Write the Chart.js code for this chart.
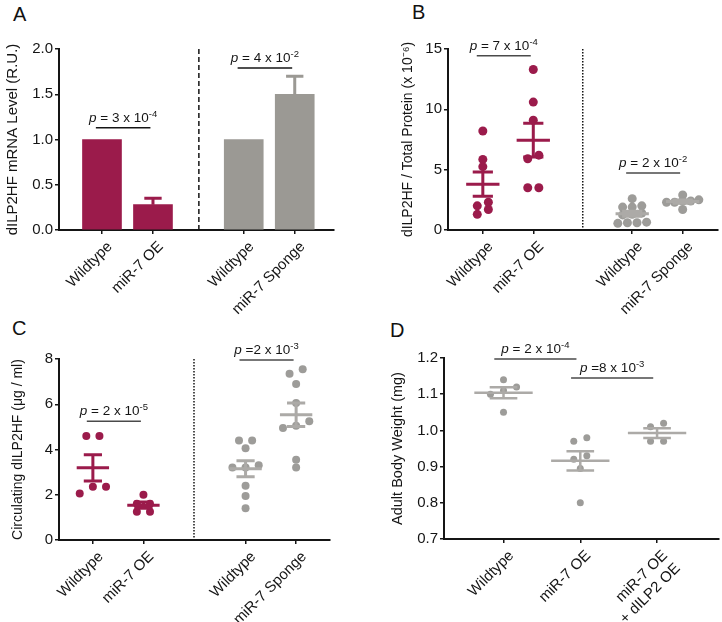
<!DOCTYPE html>
<html>
<head>
<meta charset="utf-8">
<script src="https://cdn.jsdelivr.net/npm/chart.js@4.4.1/dist/chart.umd.min.js"></script>
<style>
  body { margin: 0; background: #fff; width: 722px; height: 622px; position: relative; overflow: hidden;
         font-family: "Liberation Sans", Arial, sans-serif; }
  canvas { position: absolute; }
  .tag { position: absolute; font-size: 20px; line-height: 20px; color: #111; }
</style>
</head>
<body>
<div class="tag" style="left:13px;top:4px">A</div>
<div class="tag" style="left:412px;top:2px">B</div>
<div class="tag" style="left:12px;top:318px">C</div>
<div class="tag" style="left:390px;top:320px">D</div>
<canvas id="chartA" width="361" height="330" style="left:0;top:0"></canvas>
<canvas id="chartB" width="361" height="330" style="left:361px;top:0"></canvas>
<canvas id="chartC" width="361" height="311" style="left:0;top:311px"></canvas>
<canvas id="chartD" width="361" height="311" style="left:361px;top:311px"></canvas>
<script>
// ---- A: dILP2HF mRNA level (bars, mean + error) ----
const aLabels = ["Wildtype", "miR-7 OE", "Wildtype", "miR-7 Sponge"];
const aPos = [1, 2, 3.78, 4.78];
const aValues = [1.0, 0.28, 1.0, 1.5];
const aErrors = [0, 0.07, 0, 0.2];
const aYTicks = [0, 0.5, 1, 1.5, 2];
const aYTickLabels = ["0.0", "0.5", "1.0", "1.5", "2.0"];
const aPvals = [
  { from: 0, to: 1, y: 1.13, text: " = 3 x 10", exp: "-4" },
  { from: 2, to: 3, y: 1.79, text: " = 4 x 10", exp: "-2" },
];

// ---- B: dILP2HF / total protein ----
const bLabels = ["Wildtype", "miR-7 OE", "Wildtype", "miR-7 Sponge"];
const bPos = [1, 2, 3.96, 4.96];
const bWildtype = [8.2, 5.85, 5.25, 2.3, 2.0, 1.7, 1.3];
const bMir7OE = [13.3, 10.6, 9.1, 6.2, 5.9, 3.5, 3.5];
const bWildtype2 = [2.6, 2.0, 1.9, 1.9, 1.4, 1.3, 1.25, 0.65, 0.6, 0.6, 0.55];
const bSponge = [2.9, 2.5, 2.4, 2.4, 2.3, 2.3, 1.7];
const bYTicks = [0, 5, 10, 15];
const bYTickLabels = ["0", "5", "10", "15"];
const bPvals = [
  { from: 0, to: 1, y: 14.45, text: " = 7 x 10", exp: "-4" },
  { from: 2, to: 3, y: 4.72, text: " = 2 x 10", exp: "-2" },
];

// ---- C: circulating dILP2HF ----
const cLabels = ["Wildtype", "miR-7 OE", "Wildtype", "miR-7 Sponge"];
const cPos = [1, 2, 4.02, 5.02];
const cWildtype = [4.6, 4.6, 2.35, 2.35, 2.05];
const cMir7OE = [2.0, 1.6, 1.6, 1.25, 1.25];
const cWildtype2 = [4.4, 4.4, 4.05, 3.3, 3.2, 3.2, 2.4, 1.95, 1.4];
const cSponge = [7.55, 7.35, 6.9, 6.05, 5.25, 5.05, 4.95, 3.55, 3.2];
const cYTicks = [0, 2, 4, 6, 8];
const cYTickLabels = ["0", "2", "4", "6", "8"];
const cPvals = [
  { from: 0, to: 1, y: 5.25, text: " = 2 x 10", exp: "-5" },
  { from: 2, to: 3, y: 7.96, text: " =2 x 10", exp: "-3" },
];

// ---- D: adult body weight ----
const dLabels = ["Wildtype", "miR-7 OE", ["miR-7 OE", "+ dILP2 OE"]];
const dPos = [1, 2, 3];
const dWildtype = [1.14, 1.12, 1.11, 1.10, 1.05];
const dMir7OE = [0.98, 0.97, 0.93, 0.92, 0.895, 0.80];
const dRescue = [1.02, 1.01, 0.97, 0.97];
const dYTicks = [0.7, 0.8, 0.9, 1.0, 1.1, 1.2];
const dYTickLabels = ["0.7", "0.8", "0.9", "1.0", "1.1", "1.2"];
const dPvals = [
  { from: 0, to: 1, y: 1.197, text: " = 2 x 10", exp: "-4" },
  { from: 1, to: 2, y: 1.145, text: " =8 x 10", exp: "-3" },
];

const FONT = '"Liberation Sans", Arial, Helvetica, sans-serif';
const MAROON = "#9b1b4b";
const GREY_BAR = "#9b9994";
const GREY_DOT = "#9d9c99";
const GREY_LINE = "#acaaa7";
const INK = "#151515";

Chart.defaults.font.family = FONT;
Chart.defaults.color = INK;

const mean = (a) => a.reduce((s, v) => s + v, 0) / a.length;
const sem = (a) => {
  const m = mean(a);
  return Math.sqrt(a.reduce((s, v) => s + (v - m) * (v - m), 0) / (a.length - 1) / a.length);
};

// GraphPad-style scatter: values close together share a row and spread sideways
function swarm(vals, center, tol, step) {
  const sorted = vals.slice().sort((a, b) => a - b);
  const out = [];
  let i = 0;
  while (i < sorted.length) {
    let j = i;
    while (j < sorted.length && sorted[j] - sorted[i] < tol) j++;
    const n = j - i;
    for (let k = 0; k < n; k++) out.push({ x: center + (k - (n - 1) / 2) * step, y: sorted[i + k] });
    i = j;
  }
  return out;
}

function dots(vals, center, color, tol, step, r) {
  return {
    type: "scatter",
    data: swarm(vals, center, tol, step),
    backgroundColor: color,
    borderWidth: 0,
    pointRadius: r,
    pointHoverRadius: r,
  };
}

// dividers, error bars, mean ± SEM and p-value brackets, all placed through the chart scales
function marks(spec) {
  return {
    id: "marks",
    afterDatasetsDraw(chart) {
      const { ctx } = chart;
      const { x, y } = chart.scales;
      ctx.save();

      if (spec.divider) {
        const px = x.getPixelForValue(spec.divider.x);
        ctx.strokeStyle = INK;
        ctx.lineWidth = spec.divider.width;
        ctx.setLineDash(spec.divider.dash);
        ctx.beginPath();
        ctx.moveTo(px, y.getPixelForValue(y.max));
        ctx.lineTo(px, y.getPixelForValue(y.min));
        ctx.stroke();
        ctx.setLineDash([]);
      }

      (spec.errors || []).forEach((e) => {
        if (!e.err) return;
        const cx = x.getPixelForValue(e.x);
        const hw = x.getPixelForValue(e.x + e.cap) - cx;
        const y0 = y.getPixelForValue(e.value);
        const y1 = y.getPixelForValue(e.value + e.err);
        ctx.strokeStyle = e.color;
        ctx.lineWidth = 3;
        ctx.beginPath();
        ctx.moveTo(cx, y0);
        ctx.lineTo(cx, y1);
        ctx.moveTo(cx - hw, y1);
        ctx.lineTo(cx + hw, y1);
        ctx.stroke();
      });

      (spec.groups || []).forEach((g) => {
        const m = mean(g.vals);
        const s = sem(g.vals);
        const cx = x.getPixelForValue(g.x);
        const hw = x.getPixelForValue(g.x + spec.half) - cx;
        const cw = x.getPixelForValue(g.x + spec.cap) - cx;
        const ym = y.getPixelForValue(m);
        const yt = y.getPixelForValue(m + s);
        const yb = y.getPixelForValue(m - s);
        ctx.strokeStyle = g.color;
        ctx.lineWidth = spec.lw;
        ctx.beginPath();
        ctx.moveTo(cx - hw, ym);
        ctx.lineTo(cx + hw, ym);
        ctx.moveTo(cx, yt);
        ctx.lineTo(cx, yb);
        ctx.moveTo(cx - cw, yt);
        ctx.lineTo(cx + cw, yt);
        ctx.moveTo(cx - cw, yb);
        ctx.lineTo(cx + cw, yb);
        ctx.stroke();
      });

      (spec.pvals || []).forEach((p) => {
        const x1 = x.getPixelForValue(spec.pos[p.from] - 0.12);
        const x2 = x.getPixelForValue(spec.pos[p.to] - 0.05);
        const py = y.getPixelForValue(p.y);
        ctx.strokeStyle = spec.pColor;
        ctx.lineWidth = 1.5;
        ctx.beginPath();
        ctx.moveTo(x1, py);
        ctx.lineTo(x2, py);
        ctx.stroke();

        const fs = 13.5, ss = 9.5;
        ctx.font = `italic ${fs}px ${FONT}`;
        const wp = ctx.measureText("p").width;
        ctx.font = `${fs}px ${FONT}`;
        const wt = ctx.measureText(p.text).width;
        ctx.font = `${ss}px ${FONT}`;
        const we = ctx.measureText(p.exp).width;
        let tx = (x1 + x2) / 2 - (wp + wt + we) / 2;
        const base = py - 6;
        ctx.fillStyle = INK;
        ctx.textBaseline = "alphabetic";
        ctx.textAlign = "left";
        ctx.font = `italic ${fs}px ${FONT}`;
        ctx.fillText("p", tx, base);
        tx += wp;
        ctx.font = `${fs}px ${FONT}`;
        ctx.fillText(p.text, tx, base);
        tx += wt;
        ctx.font = `${ss}px ${FONT}`;
        ctx.fillText(p.exp, tx, base - 5);
      });

      ctx.restore();
    },
  };
}

function panel(id, p) {
  const axisGrid = { drawOnChartArea: false, drawTicks: true, tickLength: 4, color: INK, lineWidth: 1.5, offset: false };
  const axisBorder = { display: true, color: INK, width: 2 };
  return new Chart(document.getElementById(id), {
    type: "scatter",
    data: { datasets: p.datasets },
    options: {
      responsive: false,
      animation: false,
      events: [],
      layout: { padding: p.pad },
      plugins: { legend: { display: false }, tooltip: { enabled: false } },
      scales: {
        x: {
          type: "linear",
          min: p.xMin,
          max: p.xMax,
          offset: false,
          afterBuildTicks: (s) => { s.ticks = p.xPos.map((v) => ({ value: v })); },
          afterFit: (s) => { s.height = p.xH; },
          ticks: {
            autoSkip: false, minRotation: 45, maxRotation: 45, padding: 4, labelOffset: 8,
            font: { size: 15 }, color: INK,
            callback: (v, i) => p.xLabels[i],
          },
          grid: axisGrid,
          border: axisBorder,
        },
        y: {
          type: "linear",
          min: p.yTicks[0],
          max: p.yTicks[p.yTicks.length - 1],
          afterBuildTicks: (s) => { s.ticks = p.yTicks.map((v) => ({ value: v })); },
          afterFit: (s) => { s.width = p.yW; },
          ticks: { padding: 2, font: { size: 15 }, color: INK, callback: (v, i) => p.yTickLabels[i] },
          grid: axisGrid,
          border: axisBorder,
          title: { display: true, text: p.yTitle, color: INK, font: { size: p.titleSize }, padding: { top: p.titlePad, bottom: 0 } },
        },
      },
    },
    plugins: [marks(p.marks)],
  });
}

// A
panel("chartA", {
  pad: { left: 0, top: 49, right: 27, bottom: 0 },
  yW: 59, xH: 100,
  xMin: 0.157, xMax: 5.55, xPos: aPos, xLabels: aLabels,
  yTicks: aYTicks, yTickLabels: aYTickLabels,
  yTitle: "dILP2HF mRNA Level (R.U.)", titleSize: 15, titlePad: 4,
  datasets: [{
    type: "bar",
    data: aPos.map((x, i) => ({ x, y: aValues[i] })),
    backgroundColor: [MAROON, MAROON, GREY_BAR, GREY_BAR],
    barThickness: 39,
    grouped: false,
    borderWidth: 0,
  }],
  marks: {
    pos: aPos,
    divider: { x: 2.9, dash: [5, 3], width: 1.5 },
    errors: aPos.map((x, i) => ({ x, value: aValues[i], err: aErrors[i], cap: 0.17, color: i < 2 ? MAROON : GREY_BAR })),
    pvals: aPvals, pColor: INK,
  },
});

// B
panel("chartB", {
  pad: { left: 0, top: 49, right: 2, bottom: 0 },
  yW: 87, xH: 100,
  xMin: 0.31, xMax: 5.65, xPos: bPos, xLabels: bLabels,
  yTicks: bYTicks, yTickLabels: bYTickLabels,
  yTitle: "dILP2HF / Total Protein (x 10\u207B\u2076)", titleSize: 14, titlePad: 39,
  datasets: [
    dots(bWildtype, bPos[0], MAROON, 0.55, 0.22, 4.5),
    dots(bMir7OE, bPos[1], MAROON, 0.55, 0.22, 4.5),
    dots(bWildtype2, bPos[2], GREY_DOT, 0.55, 0.19, 4.5),
    dots(bSponge, bPos[3], GREY_DOT, 0.55, 0.16, 4.5),
  ],
  marks: {
    pos: bPos,
    divider: { x: 2.98, dash: [1.5, 1.5], width: 1.5 },
    groups: [
      { x: bPos[0], vals: bWildtype, color: MAROON },
      { x: bPos[1], vals: bMir7OE, color: MAROON },
      { x: bPos[2], vals: bWildtype2, color: GREY_LINE },
      { x: bPos[3], vals: bSponge, color: GREY_LINE },
    ],
    half: 0.33, cap: 0.2, lw: 3,
    pvals: bPvals, pColor: "#4a4a4a",
  },
});

// C
panel("chartC", {
  pad: { left: 0, top: 48, right: 31, bottom: 0 },
  yW: 59, xH: 82,
  xMin: 0.33, xMax: 5.69, xPos: cPos, xLabels: cLabels,
  yTicks: cYTicks, yTickLabels: cYTickLabels,
  yTitle: "Circulating dILP2HF (\u03BCg / ml)", titleSize: 14, titlePad: 10,
  datasets: [
    dots(cWildtype, cPos[0], MAROON, 0.33, 0.26, 4),
    dots(cMir7OE, cPos[1], MAROON, 0.33, 0.26, 4),
    dots(cWildtype2, cPos[2], GREY_DOT, 0.33, 0.26, 4),
    dots(cSponge, cPos[3], GREY_DOT, 0.33, 0.26, 4),
  ],
  marks: {
    pos: cPos,
    divider: { x: 3.0, dash: [1.5, 1.5], width: 1.5 },
    groups: [
      { x: cPos[0], vals: cWildtype, color: MAROON },
      { x: cPos[1], vals: cMir7OE, color: MAROON },
      { x: cPos[2], vals: cWildtype2, color: GREY_LINE },
      { x: cPos[3], vals: cSponge, color: GREY_LINE },
    ],
    half: 0.32, cap: 0.18, lw: 3,
    pvals: cPvals, pColor: "#4a4a4a",
  },
});

// D
panel("chartD", {
  pad: { left: 0, top: 47, right: 3, bottom: 0 },
  yW: 83, xH: 83,
  xMin: 0.225, xMax: 3.8, xPos: dPos, xLabels: dLabels,
  yTicks: dYTicks, yTickLabels: dYTickLabels,
  yTitle: "Adult Body Weight (mg)", titleSize: 14.5, titlePad: 28,
  datasets: [
    dots(dWildtype, dPos[0], GREY_DOT, 0.025, 0.17, 3.5),
    dots(dMir7OE, dPos[1], GREY_DOT, 0.025, 0.17, 3.5),
    dots(dRescue, dPos[2], GREY_DOT, 0.025, 0.17, 3.5),
  ],
  marks: {
    pos: dPos,
    groups: [
      { x: dPos[0], vals: dWildtype, color: GREY_LINE },
      { x: dPos[1], vals: dMir7OE, color: GREY_LINE },
      { x: dPos[2], vals: dRescue, color: GREY_LINE },
    ],
    half: 0.38, cap: 0.18, lw: 2.5,
    pvals: dPvals, pColor: "#4a4a4a",
  },
});
</script>
</body>
</html>
